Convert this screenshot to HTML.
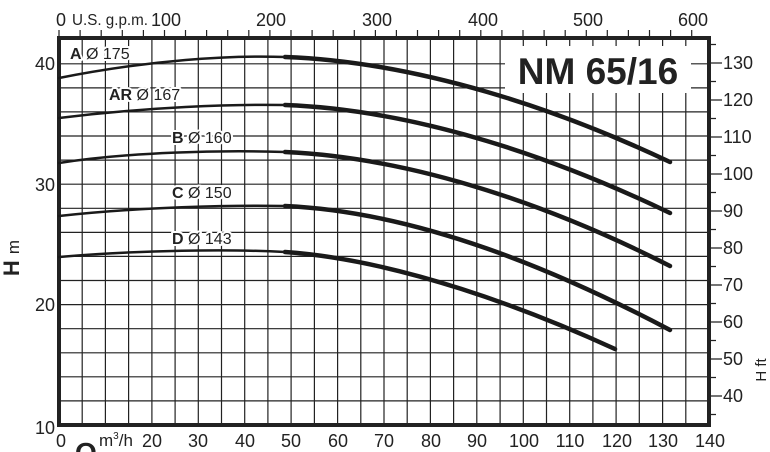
<!DOCTYPE html><html><head><style>body{margin:0;background:#fff}svg{display:block;font-family:"Liberation Sans",sans-serif}.h{paint-order:stroke;stroke:#fff;stroke-width:4px;stroke-linejoin:round}</style></head><body>
<svg width="770" height="452" viewBox="0 0 770 452" xmlns="http://www.w3.org/2000/svg">
<path fill="none" stroke="#222" stroke-width="1.2" d="
M82.2,38V425M105.4,38V425M128.6,38V425M151.9,38V425M175.1,38V425M198.3,38V425M221.5,38V425M244.7,38V425M267.9,38V425M291.1,38V425M314.4,38V425M337.6,38V425M360.8,38V425M384,38V425M407.2,38V425M430.4,38V425M453.6,38V425M476.8,38V425M500.1,38V425M523.3,38V425M546.5,38V425M569.7,38V425M592.9,38V425M616.1,38V425M639.3,38V425M662.6,38V425M685.8,38V425
M59,400.9H709M59,376.8H709M59,352.8H709M59,328.7H709M59,304.6H709M59,280.5H709M59,256.4H709M59,232.4H709M59,208.3H709M59,184.2H709M59,160.1H709M59,136H709M59,111.9H709M59,87.9H709M59,63.8H709
M59,30V38M80.1,30V38M101.2,30V38M122.3,30V38M143.4,30V38M164.5,30V38M185.5,30V38M206.6,30V38M227.7,30V38M248.8,30V38M269.9,30V38M291,30V38M312.1,30V38M333.2,30V38M354.3,30V38M375.4,30V38M396.4,30V38M417.5,30V38M438.6,30V38M459.7,30V38M480.8,30V38M501.9,30V38M523,30V38M544.1,30V38M565.2,30V38M586.3,30V38M607.3,30V38M628.4,30V38M649.5,30V38M670.6,30V38M691.7,30V38
M709,414.5H716M709,396H722M709,377.5H716M709,359H722M709,340.5H716M709,322H722M709,303.5H716M709,285H722M709,266.5H716M709,248H722M709,229.5H716M709,211H722M709,192.5H716M709,174H722M709,155.5H716M709,137H722M709,118.5H716M709,100H722M709,81.5H716M709,63H722M709,44.5H716"/>
<rect x="505" y="46" width="186" height="47" fill="#fff"/>
<rect x="59" y="38" width="650" height="387" fill="none" stroke="#222" stroke-width="4"/>
<g fill="none" stroke="#1a1a1a" stroke-linecap="round">
<path d="M59,78 C150,60 230,55 285,57" stroke-width="2.5"/><path d="M285,57 C420,62 560,110 670,162" stroke-width="4.5"/>
<path d="M59,118 C150,107 230,104 285,105" stroke-width="2.5"/><path d="M285,105 C420,110 560,160 670,213" stroke-width="4.5"/>
<path d="M59,163 C130,152 220,150 285,152" stroke-width="2.5"/><path d="M285,152 C420,158 560,210 670,266" stroke-width="4.5"/>
<path d="M59,216 C140,207 230,205 285,206" stroke-width="2.5"/><path d="M285,206 C420,212 560,272 670,330" stroke-width="4.5"/>
<path d="M59,257 C140,250 230,249 285,252" stroke-width="2.5"/><path d="M285,252 C400,260 530,310 615,349" stroke-width="4.5"/>
</g>
<text x="598" y="84" font-size="37" font-weight="bold" text-anchor="middle" fill="#222">NM 65/16</text>
<g font-size="16" fill="#222" class="h">
<text x="70" y="59"><tspan font-weight="bold">A</tspan> Ø 175</text>
<text x="109" y="100"><tspan font-weight="bold">AR</tspan> Ø 167</text>
<text x="172" y="143"><tspan font-weight="bold">B</tspan> Ø 160</text>
<text x="172" y="198"><tspan font-weight="bold">C</tspan> Ø 150</text>
<text x="172" y="244"><tspan font-weight="bold">D</tspan> Ø 143</text>
</g>
<g font-size="18" fill="#222" text-anchor="end">
<text x="55" y="70">40</text><text x="55" y="191">30</text><text x="55" y="311">20</text><text x="55" y="434">10</text>
</g>
<g font-size="18" fill="#222">
<text x="723" y="69">130</text><text x="723" y="106">120</text><text x="723" y="143">110</text><text x="723" y="180">100</text><text x="723" y="217">90</text><text x="723" y="254">80</text><text x="723" y="291">70</text><text x="723" y="328">60</text><text x="723" y="365">50</text><text x="723" y="402">40</text>
</g>
<g font-size="18" fill="#222" text-anchor="middle">
<text x="61" y="447">0</text><text x="152" y="447">20</text><text x="198" y="447">30</text><text x="245" y="447">40</text><text x="291" y="447">50</text><text x="338" y="447">60</text><text x="384" y="447">70</text><text x="431" y="447">80</text><text x="477" y="447">90</text><text x="524" y="447">100</text><text x="570" y="447">110</text><text x="617" y="447">120</text><text x="663" y="447">130</text><text x="710" y="447">140</text>
<text x="61" y="26">0</text><text x="166" y="26">100</text><text x="271" y="26">200</text><text x="377" y="26">300</text><text x="483" y="26">400</text><text x="588" y="26">500</text><text x="693" y="26">600</text>
</g>
<text x="72" y="25" font-size="16" fill="#222" textLength="76" lengthAdjust="spacingAndGlyphs">U.S. g.p.m.</text>
<text x="99" y="446" font-size="17" fill="#222">m<tspan font-size="10" dy="-7">3</tspan><tspan dy="7">/h</tspan></text>
<text x="75" y="462" font-size="28" font-weight="bold" fill="#222">Q</text>
<text transform="translate(19,258) rotate(-90)" font-size="22" font-weight="bold" fill="#222" text-anchor="middle">H <tspan font-weight="normal" font-size="17">m</tspan></text>
<text transform="translate(766,370) rotate(-90)" font-size="15" fill="#222" text-anchor="middle">H ft</text>
</svg>
</body></html>
